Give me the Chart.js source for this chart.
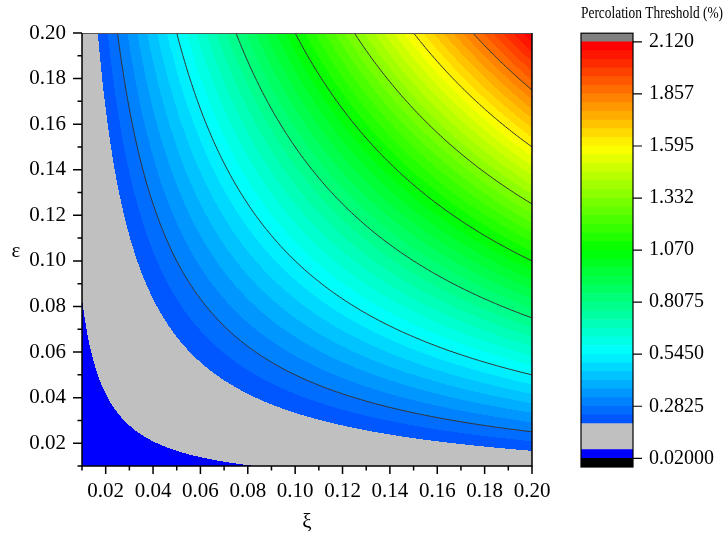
<!DOCTYPE html>
<html>
<head>
<meta charset="utf-8">
<script src="https://cdn.jsdelivr.net/npm/chart.js@4.4.0/dist/chart.umd.min.js"></script>
<style>
  html, body { margin: 0; padding: 0; background: #fff; }
  #wrap { position: relative; width: 723px; height: 545px; overflow: hidden; }
  #plot { position: absolute; left: 0; top: 0; }
  #scale { position: absolute; left: 540px; top: 0; }
</style>
</head>
<body>
<div id="wrap">
  <canvas id="plot" width="560" height="545"></canvas>
  <canvas id="scale" width="183" height="545"></canvas>
</div>
<script>
// grid of the contour data: xi along x, eps along y
const xiValues = [0.01, 0.02, 0.03, 0.04, 0.05, 0.06, 0.07, 0.08, 0.09, 0.10,
                  0.11, 0.12, 0.13, 0.14, 0.15, 0.16, 0.17, 0.18, 0.19, 0.20];
const epsValues = [0.01, 0.02, 0.03, 0.04, 0.05, 0.06, 0.07, 0.08, 0.09, 0.10,
                   0.11, 0.12, 0.13, 0.14, 0.15, 0.16, 0.17, 0.18, 0.19, 0.20];

// percolation threshold (%), one row per eps value, columns follow xiValues
const thresholdRows = [
  [0.02525, 0.0305, 0.03575, 0.041, 0.04625, 0.0515, 0.05675, 0.062, 0.06725, 0.0725, 0.07775, 0.083, 0.08825, 0.0935, 0.09875, 0.104, 0.10925, 0.1145, 0.11975, 0.125],
  [0.0305, 0.041, 0.0515, 0.062, 0.0725, 0.083, 0.0935, 0.104, 0.1145, 0.125, 0.1355, 0.146, 0.1565, 0.167, 0.1775, 0.188, 0.1985, 0.209, 0.2195, 0.23],
  [0.03575, 0.0515, 0.06725, 0.083, 0.09875, 0.1145, 0.13025, 0.146, 0.16175, 0.1775, 0.19325, 0.209, 0.22475, 0.2405, 0.25625, 0.272, 0.28775, 0.3035, 0.31925, 0.335],
  [0.041, 0.062, 0.083, 0.104, 0.125, 0.146, 0.167, 0.188, 0.209, 0.23, 0.251, 0.272, 0.293, 0.314, 0.335, 0.356, 0.377, 0.398, 0.419, 0.44],
  [0.04625, 0.0725, 0.09875, 0.125, 0.15125, 0.1775, 0.20375, 0.23, 0.25625, 0.2825, 0.30875, 0.335, 0.36125, 0.3875, 0.41375, 0.44, 0.46625, 0.4925, 0.51875, 0.545],
  [0.0515, 0.083, 0.1145, 0.146, 0.1775, 0.209, 0.2405, 0.272, 0.3035, 0.335, 0.3665, 0.398, 0.4295, 0.461, 0.4925, 0.524, 0.5555, 0.587, 0.6185, 0.65],
  [0.05675, 0.0935, 0.13025, 0.167, 0.20375, 0.2405, 0.27725, 0.314, 0.35075, 0.3875, 0.42425, 0.461, 0.49775, 0.5345, 0.57125, 0.608, 0.64475, 0.6815, 0.71825, 0.755],
  [0.062, 0.104, 0.146, 0.188, 0.23, 0.272, 0.314, 0.356, 0.398, 0.44, 0.482, 0.524, 0.566, 0.608, 0.65, 0.692, 0.734, 0.776, 0.818, 0.86],
  [0.06725, 0.1145, 0.16175, 0.209, 0.25625, 0.3035, 0.35075, 0.398, 0.44525, 0.4925, 0.53975, 0.587, 0.63425, 0.6815, 0.72875, 0.776, 0.82325, 0.8705, 0.91775, 0.965],
  [0.0725, 0.125, 0.1775, 0.23, 0.2825, 0.335, 0.3875, 0.44, 0.4925, 0.545, 0.5975, 0.65, 0.7025, 0.755, 0.8075, 0.86, 0.9125, 0.965, 1.0175, 1.07],
  [0.07775, 0.1355, 0.19325, 0.251, 0.30875, 0.3665, 0.42425, 0.482, 0.53975, 0.5975, 0.65525, 0.713, 0.77075, 0.8285, 0.88625, 0.944, 1.00175, 1.0595, 1.11725, 1.175],
  [0.083, 0.146, 0.209, 0.272, 0.335, 0.398, 0.461, 0.524, 0.587, 0.65, 0.713, 0.776, 0.839, 0.902, 0.965, 1.028, 1.091, 1.154, 1.217, 1.28],
  [0.08825, 0.1565, 0.22475, 0.293, 0.36125, 0.4295, 0.49775, 0.566, 0.63425, 0.7025, 0.77075, 0.839, 0.90725, 0.9755, 1.04375, 1.112, 1.18025, 1.2485, 1.31675, 1.385],
  [0.0935, 0.167, 0.2405, 0.314, 0.3875, 0.461, 0.5345, 0.608, 0.6815, 0.755, 0.8285, 0.902, 0.9755, 1.049, 1.1225, 1.196, 1.2695, 1.343, 1.4165, 1.49],
  [0.09875, 0.1775, 0.25625, 0.335, 0.41375, 0.4925, 0.57125, 0.65, 0.72875, 0.8075, 0.88625, 0.965, 1.04375, 1.1225, 1.20125, 1.28, 1.35875, 1.4375, 1.51625, 1.595],
  [0.104, 0.188, 0.272, 0.356, 0.44, 0.524, 0.608, 0.692, 0.776, 0.86, 0.944, 1.028, 1.112, 1.196, 1.28, 1.364, 1.448, 1.532, 1.616, 1.7],
  [0.10925, 0.1985, 0.28775, 0.377, 0.46625, 0.5555, 0.64475, 0.734, 0.82325, 0.9125, 1.00175, 1.091, 1.18025, 1.2695, 1.35875, 1.448, 1.53725, 1.6265, 1.71575, 1.805],
  [0.1145, 0.209, 0.3035, 0.398, 0.4925, 0.587, 0.6815, 0.776, 0.8705, 0.965, 1.0595, 1.154, 1.2485, 1.343, 1.4375, 1.532, 1.6265, 1.721, 1.8155, 1.91],
  [0.11975, 0.2195, 0.31925, 0.419, 0.51875, 0.6185, 0.71825, 0.818, 0.91775, 1.0175, 1.11725, 1.217, 1.31675, 1.4165, 1.51625, 1.616, 1.71575, 1.8155, 1.91525, 2.015],
  [0.125, 0.23, 0.335, 0.44, 0.545, 0.65, 0.755, 0.86, 0.965, 1.07, 1.175, 1.28, 1.385, 1.49, 1.595, 1.7, 1.805, 1.91, 2.015, 2.12]
];

const xTickLabels = ['', '0.02', '', '0.04', '', '0.06', '', '0.08', '', '0.10',
                     '', '0.12', '', '0.14', '', '0.16', '', '0.18', '', '0.20'];
const yTickLabels = ['', '0.02', '', '0.04', '', '0.06', '', '0.08', '', '0.10',
                     '', '0.12', '', '0.14', '', '0.16', '', '0.18', '', '0.20'];

// contour fill levels (colour bar boxes)
const levelBounds = [0.02, 0.06375, 0.1075, 0.15125, 0.195, 0.23875, 0.2825, 0.32625, 0.37, 0.41375,
  0.4575, 0.50125, 0.545, 0.58875, 0.6325, 0.67625, 0.72, 0.76375, 0.8075, 0.85125,
  0.895, 0.93875, 0.9825, 1.02625, 1.07, 1.11375, 1.1575, 1.20125, 1.245, 1.28875,
  1.3325, 1.37625, 1.42, 1.46375, 1.5075, 1.55125, 1.595, 1.63875, 1.6825, 1.72625,
  1.77, 1.81375, 1.8575, 1.90125, 1.945, 1.98875, 2.0325, 2.07625, 2.12];
const belowBox = [-0.02375, 0.02];
const aboveBox = [2.12, 2.16375];
const contourLevels = [0.2825, 0.545, 0.8075, 1.07, 1.3325, 1.595, 1.8575];
const colorTickValues = [0.02, 0.2825, 0.545, 0.8075, 1.07, 1.3325, 1.595, 1.8575, 2.12];
const colorTickLabels = ['0.02000', '0.2825', '0.5450', '0.8075', '1.070', '1.332', '1.595', '1.857', '2.120'];

const FONT = 'Liberation Serif';
const BELOW_RGB = [0, 0, 0];
const ABOVE_RGB = [128, 128, 128];

function rainbow(t) {
  if (t < 0.25) return [0, Math.round(255 * t / 0.25), 255];
  if (t < 0.5) return [0, 255, Math.round(255 * (1 - (t - 0.25) / 0.25))];
  if (t < 0.75) return [Math.round(255 * (t - 0.5) / 0.25), 255, 0];
  return [255, Math.round(255 * (1 - (t - 0.75) / 0.25)), 0];
}

const nBands = levelBounds.length - 1;
const bandRgb = [];
for (let k = 0; k < nBands; k++) {
  if (k === 0) bandRgb.push([0, 0, 255]);
  else if (k <= 3) bandRgb.push([192, 192, 192]);
  else bandRgb.push(rainbow(k / (nBands - 1)));
}
const rgbStr = c => `rgb(${c[0]},${c[1]},${c[2]})`;

function colorFor(v) {
  if (v < levelBounds[0]) return BELOW_RGB;
  if (v > levelBounds[nBands]) return ABOVE_RGB;
  let k = 0;
  while (k < nBands - 1 && v >= levelBounds[k + 1]) k++;
  return bandRgb[k];
}

function locate(arr, v) {
  let i = 0;
  while (i < arr.length - 2 && v > arr[i + 1]) i++;
  let f = (v - arr[i]) / (arr[i + 1] - arr[i]);
  f = Math.max(0, Math.min(1, f));
  return { i, f };
}

function sample(c, r) {
  const r0 = thresholdRows[r.i], r1 = thresholdRows[r.i + 1];
  const a = r0[c.i] * (1 - c.f) + r0[c.i + 1] * c.f;
  const b = r1[c.i] * (1 - c.f) + r1[c.i + 1] * c.f;
  return a * (1 - r.f) + b * r.f;
}

const contourPlugin = {
  id: 'contourFill',
  beforeDatasetsDraw(chart) {
    const { ctx, chartArea: a, scales: { x, y } } = chart;
    const left = Math.round(a.left), top = Math.round(a.top);
    const w = Math.round(a.right) - left, h = Math.round(a.bottom) - top;
    const img = ctx.createImageData(w, h);
    const cols = [], rows = [];
    for (let px = 0; px < w; px++) cols.push(locate(xiValues, x.getValueForPixel(left + px + 0.5)));
    for (let py = 0; py < h; py++) rows.push(locate(epsValues, y.getValueForPixel(top + py + 0.5)));
    for (let py = 0; py < h; py++) {
      for (let px = 0; px < w; px++) {
        const c = colorFor(sample(cols[px], rows[py]));
        const idx = (py * w + px) * 4;
        img.data[idx] = c[0];
        img.data[idx + 1] = c[1];
        img.data[idx + 2] = c[2];
        img.data[idx + 3] = 255;
      }
    }
    ctx.putImageData(img, left, top);

    // contour lines on a refined grid
    const sub = 8;
    const fx = [], fy = [];
    for (let i = 0; i < xiValues.length - 1; i++) for (let s = 0; s < sub; s++) fx.push({ i, f: s / sub });
    fx.push({ i: xiValues.length - 2, f: 1 });
    for (let j = 0; j < epsValues.length - 1; j++) for (let s = 0; s < sub; s++) fy.push({ i: j, f: s / sub });
    fy.push({ i: epsValues.length - 2, f: 1 });
    const fxv = fx.map(c => xiValues[c.i] + (xiValues[c.i + 1] - xiValues[c.i]) * c.f);
    const fyv = fy.map(r => epsValues[r.i] + (epsValues[r.i + 1] - epsValues[r.i]) * r.f);
    const fv = fy.map(r => fx.map(c => sample(c, r)));

    ctx.save();
    ctx.beginPath();
    ctx.rect(a.left, a.top, a.right - a.left, a.bottom - a.top);
    ctx.clip();
    ctx.strokeStyle = '#333';
    ctx.lineWidth = 1;
    ctx.beginPath();
    contourLevels.forEach(L => {
      for (let r = 0; r < fy.length - 1; r++) {
        for (let c = 0; c < fx.length - 1; c++) {
          const corners = [
            [fxv[c], fyv[r], fv[r][c]],
            [fxv[c + 1], fyv[r], fv[r][c + 1]],
            [fxv[c + 1], fyv[r + 1], fv[r + 1][c + 1]],
            [fxv[c], fyv[r + 1], fv[r + 1][c]]
          ];
          const pts = [];
          for (let e = 0; e < 4; e++) {
            const p = corners[e], q = corners[(e + 1) % 4];
            if ((p[2] >= L) !== (q[2] >= L)) {
              const t = (L - p[2]) / (q[2] - p[2]);
              pts.push([x.getPixelForValue(p[0] + t * (q[0] - p[0])), y.getPixelForValue(p[1] + t * (q[1] - p[1]))]);
            }
          }
          for (let k = 0; k + 1 < pts.length; k += 2) {
            ctx.moveTo(pts[k][0], pts[k][1]);
            ctx.lineTo(pts[k + 1][0], pts[k + 1][1]);
          }
        }
      }
    });
    ctx.stroke();
    ctx.restore();
  }
};

const framePlugin = {
  id: 'frame',
  afterDraw(chart) {
    const { ctx, chartArea: a, scales: { x, y } } = chart;
    ctx.save();
    ctx.strokeStyle = '#555';
    ctx.lineWidth = 1;
    ctx.beginPath();
    ctx.moveTo(a.left, a.top + 0.5);
    ctx.lineTo(a.right, a.top + 0.5);
    ctx.stroke();
    ctx.strokeStyle = '#000';
    ctx.lineWidth = 1.5;
    ctx.beginPath();
    ctx.moveTo(a.left, a.top);
    ctx.lineTo(a.left, a.bottom);
    ctx.lineTo(a.right, a.bottom);
    ctx.lineTo(a.right, a.top);
    ctx.stroke();
    ctx.beginPath();
    x.ticks.forEach((t, i) => {
      const px = x.getPixelForValue(t.value);
      ctx.moveTo(px, a.bottom);
      ctx.lineTo(px, a.bottom + (xTickLabels[i] ? 8 : 4.5));
    });
    y.ticks.forEach((t, i) => {
      const py = y.getPixelForValue(t.value);
      ctx.moveTo(a.left, py);
      ctx.lineTo(a.left - (yTickLabels[i] ? 9 : 4.5), py);
    });
    ctx.stroke();
    ctx.fillStyle = '#000';
    ctx.font = `21px "${FONT}"`;
    ctx.textAlign = 'center';
    ctx.textBaseline = 'middle';
    ctx.fillText('ε', 16, (a.top + a.bottom) / 2 + 2);
    ctx.restore();
  }
};

new Chart(document.getElementById('plot'), {
  type: 'scatter',
  data: { datasets: [] },
  options: {
    responsive: false,
    animation: false,
    devicePixelRatio: 1,
    layout: { padding: { top: 33, right: 28, left: 0, bottom: 0 } },
    plugins: { legend: { display: false }, tooltip: { enabled: false } },
    scales: {
      x: {
        type: 'linear',
        min: 0.01,
        max: 0.20,
        afterBuildTicks: s => { s.ticks = xiValues.map(v => ({ value: v })); },
        afterFit: s => { s.height = 79; s.paddingLeft = 0; s.paddingRight = 0; },
        ticks: {
          autoSkip: false,
          maxRotation: 0,
          padding: 13,
          color: '#000',
          font: { family: FONT, size: 21 },
          callback: (v, i) => xTickLabels[i]
        },
        grid: { display: false, drawTicks: false },
        border: { display: false },
        title: { display: true, text: 'ξ', color: '#000', font: { family: FONT, size: 21 }, padding: { top: 0, bottom: 10 } }
      },
      y: {
        type: 'linear',
        min: 0.01,
        max: 0.20,
        afterBuildTicks: s => { s.ticks = epsValues.map(v => ({ value: v })); },
        afterFit: s => { s.width = 82; s.paddingTop = 0; s.paddingBottom = 0; },
        ticks: {
          autoSkip: false,
          padding: 16,
          color: '#000',
          font: { family: FONT, size: 21 },
          callback: (v, i) => yTickLabels[i]
        },
        grid: { display: false, drawTicks: false },
        border: { display: false }
      }
    }
  },
  plugins: [contourPlugin, framePlugin]
});

// colour bar
const barBoxes = [belowBox];
const barColors = [rgbStr(BELOW_RGB)];
for (let k = 0; k < nBands; k++) {
  barBoxes.push([levelBounds[k], levelBounds[k + 1]]);
  barColors.push(rgbStr(bandRgb[k]));
}
barBoxes.push(aboveBox);
barColors.push(rgbStr(ABOVE_RGB));

const scaleFrame = {
  id: 'scaleFrame',
  afterDraw(chart) {
    const { ctx, chartArea: a, scales: { y } } = chart;
    ctx.save();
    ctx.strokeStyle = '#000';
    ctx.lineWidth = 1.2;
    ctx.strokeRect(a.left, a.top, a.right - a.left, a.bottom - a.top);
    ctx.beginPath();
    y.ticks.forEach(t => {
      const py = y.getPixelForValue(t.value);
      ctx.moveTo(a.right, py);
      ctx.lineTo(a.right + 9, py);
    });
    ctx.stroke();
    ctx.restore();
  }
};

new Chart(document.getElementById('scale'), {
  type: 'bar',
  data: {
    labels: [''],
    datasets: barBoxes.map((b, i) => ({
      data: [b],
      backgroundColor: barColors[i],
      borderWidth: 0,
      barPercentage: 1,
      categoryPercentage: 1
    }))
  },
  options: {
    responsive: false,
    animation: false,
    devicePixelRatio: 1,
    layout: { padding: { top: 0, right: 0, left: 41, bottom: 78 } },
    plugins: {
      legend: { display: false },
      tooltip: { enabled: false },
      title: {
        display: true,
        text: 'Percolation Threshold (%)',
        align: 'end',
        color: '#000',
        font: { family: FONT, size: 16, weight: 'normal' },
        padding: { top: 4, bottom: 10 }
      }
    },
    scales: {
      x: { display: false, stacked: true },
      y: {
        position: 'right',
        min: belowBox[0],
        max: aboveBox[1],
        afterBuildTicks: s => { s.ticks = colorTickValues.map(v => ({ value: v })); },
        afterFit: s => { s.width = 90; },
        ticks: {
          autoSkip: false,
          padding: 16,
          color: '#000',
          font: { family: FONT, size: 20 },
          callback: (v, i) => colorTickLabels[i]
        },
        grid: { display: false, drawTicks: false },
        border: { display: false }
      }
    }
  },
  plugins: [scaleFrame]
});
</script>
</body>
</html>
